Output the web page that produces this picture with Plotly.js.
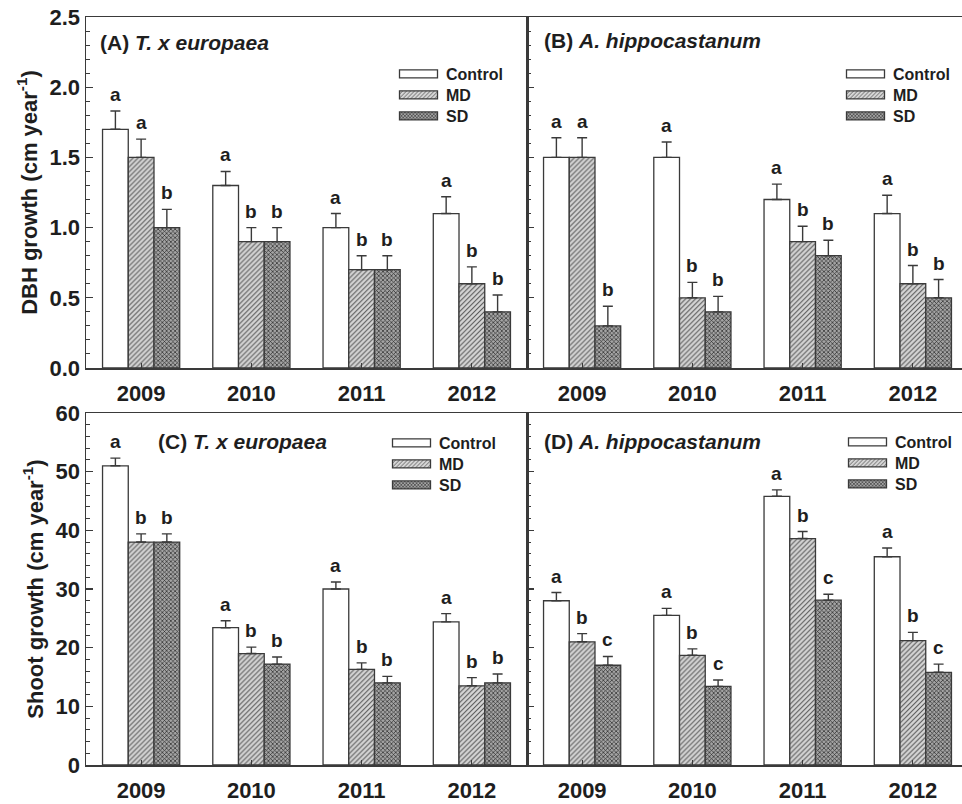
<!DOCTYPE html>
<html><head><meta charset="utf-8">
<script src="https://cdn.plot.ly/plotly-3.0.1.min.js"></script>
<style>html,body{margin:0;padding:0;background:#fff}#chart{width:962px;height:804px}</style>
</head><body><div id="chart"></div>
<script>
// ---------- data ----------
const years = ['2009', '2010', '2011', '2012'];
const treatments = ['Control', 'MD', 'SD'];

// (A) T. x europaea — DBH growth
const dbhEuroControl = [1.70, 1.30, 1.00, 1.10];
const dbhEuroControlErr = [0.13, 0.10, 0.10, 0.12];
const dbhEuroMD = [1.50, 0.90, 0.70, 0.60];
const dbhEuroMDErr = [0.13, 0.10, 0.10, 0.12];
const dbhEuroSD = [1.00, 0.90, 0.70, 0.40];
const dbhEuroSDErr = [0.13, 0.10, 0.10, 0.12];
const dbhEuroControlLetters = ['a', 'a', 'a', 'a'];
const dbhEuroMDLetters = ['a', 'b', 'b', 'b'];
const dbhEuroSDLetters = ['b', 'b', 'b', 'b'];

// (B) A. hippocastanum — DBH growth
const dbhHippoControl = [1.50, 1.50, 1.20, 1.10];
const dbhHippoControlErr = [0.14, 0.11, 0.11, 0.13];
const dbhHippoMD = [1.50, 0.50, 0.90, 0.60];
const dbhHippoMDErr = [0.14, 0.11, 0.11, 0.13];
const dbhHippoSD = [0.30, 0.40, 0.80, 0.50];
const dbhHippoSDErr = [0.14, 0.11, 0.11, 0.13];
const dbhHippoControlLetters = ['a', 'a', 'a', 'a'];
const dbhHippoMDLetters = ['a', 'b', 'b', 'b'];
const dbhHippoSDLetters = ['b', 'b', 'b', 'b'];

// (C) T. x europaea — Shoot growth
const shootEuroControl = [51.0, 23.4, 30.0, 24.4];
const shootEuroControlErr = [1.3, 1.2, 1.2, 1.4];
const shootEuroMD = [38.0, 19.0, 16.3, 13.5];
const shootEuroMDErr = [1.4, 1.1, 1.1, 1.4];
const shootEuroSD = [38.0, 17.2, 14.0, 14.0];
const shootEuroSDErr = [1.4, 1.2, 1.1, 1.5];
const shootEuroControlLetters = ['a', 'a', 'a', 'a'];
const shootEuroMDLetters = ['b', 'b', 'b', 'b'];
const shootEuroSDLetters = ['b', 'b', 'b', 'b'];

// (D) A. hippocastanum — Shoot growth
const shootHippoControl = [28.0, 25.5, 45.8, 35.5];
const shootHippoControlErr = [1.4, 1.2, 1.1, 1.5];
const shootHippoMD = [21.0, 18.7, 38.6, 21.2];
const shootHippoMDErr = [1.4, 1.1, 1.2, 1.4];
const shootHippoSD = [17.0, 13.4, 28.1, 15.8];
const shootHippoSDErr = [1.5, 1.1, 1.0, 1.4];
const shootHippoControlLetters = ['a', 'a', 'a', 'a'];
const shootHippoMDLetters = ['b', 'b', 'b', 'b'];
const shootHippoSDLetters = ['c', 'c', 'c', 'c'];

const panelTitles = [
  '<b>(A) <i>T. x europaea</i></b>',
  '<b>(B) <i>A. hippocastanum</i></b>',
  '<b>(C) <i>T. x europaea</i></b>',
  '<b>(D) <i>A. hippocastanum</i></b>'
];
const yTitleTop = '<b>DBH growth (cm year<sup>-1</sup>)</b>';
const yTitleBottom = '<b>Shoot growth (cm year<sup>-1</sup>)</b>';

// ---------- styling ----------
const FONT = 'Liberation Sans, Arial, Helvetica, sans-serif';
const INK = '#1e1e1e';
const LINE = '#3a3a3a';

const panels = [
  {series: [[dbhEuroControl, dbhEuroControlErr, dbhEuroControlLetters], [dbhEuroMD, dbhEuroMDErr, dbhEuroMDLetters], [dbhEuroSD, dbhEuroSDErr, dbhEuroSDLetters]]},
  {series: [[dbhHippoControl, dbhHippoControlErr, dbhHippoControlLetters], [dbhHippoMD, dbhHippoMDErr, dbhHippoMDLetters], [dbhHippoSD, dbhHippoSDErr, dbhHippoSDLetters]]},
  {series: [[shootEuroControl, shootEuroControlErr, shootEuroControlLetters], [shootEuroMD, shootEuroMDErr, shootEuroMDLetters], [shootEuroSD, shootEuroSDErr, shootEuroSDLetters]]},
  {series: [[shootHippoControl, shootHippoControlErr, shootHippoControlLetters], [shootHippoMD, shootHippoMDErr, shootHippoMDLetters], [shootHippoSD, shootHippoSDErr, shootHippoSDLetters]]}
];

const markerStyles = [
  {color: '#ffffff', line: {color: LINE, width: 1.3}},
  {color: '#d0d0d0', line: {color: LINE, width: 1.3},
   pattern: {shape: '/', fgcolor: '#555555', bgcolor: '#d6d6d6', size: 3.5, solidity: 0.3}},
  {color: '#8a8a8a', line: {color: LINE, width: 1.3},
   pattern: {shape: 'x', fgcolor: '#2a2a2a', bgcolor: '#a4a4a4', size: 3, solidity: 0.4}}
];

const BARGAP = 0.3;
const barW = (1 - BARGAP) / 3;
const offsets = [-barW, 0, barW];

const traces = [];
const annotations = [];
const legendNames = ['legend', 'legend2', 'legend3', 'legend4'];

panels.forEach((p, pi) => {
  const ax = pi === 0 ? '' : String(pi + 1);
  p.series.forEach((s, ti) => {
    const [vals, errs, letters] = s;
    traces.push({
      type: 'bar', x: years, y: vals, name: treatments[ti],
      xaxis: 'x' + ax, yaxis: 'y' + ax, legend: legendNames[pi],
      marker: markerStyles[ti],
      error_y: {type: 'data', array: errs, arrayminus: errs.map(() => 0), symmetric: false,
                color: LINE, thickness: 1.4, width: 5},
      hoverinfo: 'skip'
    });
    vals.forEach((v, i) => {
      annotations.push({
        xref: 'x' + ax, yref: 'y' + ax, x: i + offsets[ti], y: v + errs[i],
        text: '<b>' + letters[i] + '</b>', showarrow: false, yanchor: 'bottom', yshift: 4,
        font: {family: FONT, size: 19, color: INK}
      });
    });
  });
});

// panel titles
const titlePos = [[98, 42], [542, 40], [156, 441], [542, 441]];
panelTitles.forEach((t, i) => {
  annotations.push({xref: 'paper', yref: 'paper', x: titlePos[i][0] / 962, y: 1 - titlePos[i][1] / 804,
    xanchor: 'left', yanchor: 'middle', text: t, showarrow: false,
    font: {family: FONT, size: 21, color: INK}});
});

const W = 962, H = 804;
const xL = [86 / W, 527 / W], xR = [527 / W, 1];
const yT = [1 - 368 / H, 1 - 17 / H], yB = [1 - 765 / H, 1 - 413 / H];
const rightRangeEnd = -0.5 + (W - 527) / ((527 - 86) / 4);

function xaxis(domain, anchor, rangeEnd) {
  return {domain, anchor, type: 'category', range: [-0.5, rangeEnd],
    showline: true, linecolor: LINE, linewidth: 1.5, mirror: true,
    ticks: 'inside', ticklen: 5, tickwidth: 1.2, tickcolor: LINE,
    ticklabelstandoff: 5,
    tickfont: {family: FONT, size: 22, color: INK, weight: 'bold'},
    showgrid: false, zeroline: false, automargin: false, fixedrange: true};
}
function yaxis(domain, anchor, range, dtick, mdtick, fmt, labels, title) {
  return {domain, anchor, range, dtick, tick0: 0, tickformat: fmt,
    showline: true, linecolor: LINE, linewidth: 1.5, mirror: true,
    ticks: 'inside', ticklen: 7, tickwidth: 1.2, tickcolor: LINE,
    minor: {dtick: mdtick, tick0: 0, ticks: 'inside', ticklen: 4, tickwidth: 1, tickcolor: LINE, showgrid: false},
    showticklabels: labels,
    tickfont: {family: FONT, size: 22, color: INK, weight: 'bold'},
    title: title ? {text: title, font: {family: FONT, size: 22, color: INK}, standoff: 6} : undefined,
    showgrid: false, zeroline: false, automargin: false, fixedrange: true};
}

function legend(xpx, ypx) {
  return {x: xpx / W, y: 1 - ypx / H, xanchor: 'left', yanchor: 'top', bgcolor: 'rgba(0,0,0,0)',
    borderwidth: 0, itemwidth: 45, traceorder: 'normal', tracegroupgap: 0,
    font: {family: FONT, size: 16, color: INK, weight: 'bold'}, itemclick: false, itemdoubleclick: false};
}

const layout = {
  width: W, height: H, margin: {l: 0, r: 0, t: 0, b: 0},
  paper_bgcolor: '#fff', plot_bgcolor: '#fff',
  barmode: 'group', bargap: BARGAP, bargroupgap: 0,
  font: {family: FONT, color: INK},
  xaxis: xaxis(xL, 'y', 3.5), yaxis: yaxis(yT, 'x', [0, 2.5], 0.5, 0.1, '.1f', true, yTitleTop),
  xaxis2: xaxis(xR, 'y2', rightRangeEnd), yaxis2: yaxis(yT, 'x2', [0, 2.5], 0.5, 0.1, '.1f', false, null),
  xaxis3: xaxis(xL, 'y3', 3.5), yaxis3: yaxis(yB, 'x3', [0, 60], 10, 2, 'd', true, yTitleBottom),
  xaxis4: xaxis(xR, 'y4', rightRangeEnd), yaxis4: yaxis(yB, 'x4', [0, 60], 10, 2, 'd', false, null),
  legend: legend(391, 57), legend2: legend(838, 57), legend3: legend(384, 426), legend4: legend(840, 425),
  annotations, showlegend: true
};

Plotly.newPlot('chart', traces, layout, {staticPlot: true, displayModeBar: false}).then(gd => {
  // wide, flat legend swatches like the original figure
  gd.querySelectorAll('g.legendpoints path').forEach(p => {
    p.setAttribute('d', 'M19,4H-19V-4H19Z');
  });
  // tighter row spacing in each legend
  legendNames.forEach(id => {
    const items = gd.querySelectorAll('g.' + id + ' g.traces');
    let y0 = null;
    items.forEach((it, i) => {
      const m = /translate\(\s*([-\d.]+)[ ,]+([-\d.]+)\s*\)/.exec(it.getAttribute('transform') || '');
      if (!m) return;
      if (y0 === null) y0 = parseFloat(m[2]);
      it.setAttribute('transform', 'translate(' + m[1] + ',' + (y0 + i * 21) + ')');
    });
  });
});
</script>
</body></html>
